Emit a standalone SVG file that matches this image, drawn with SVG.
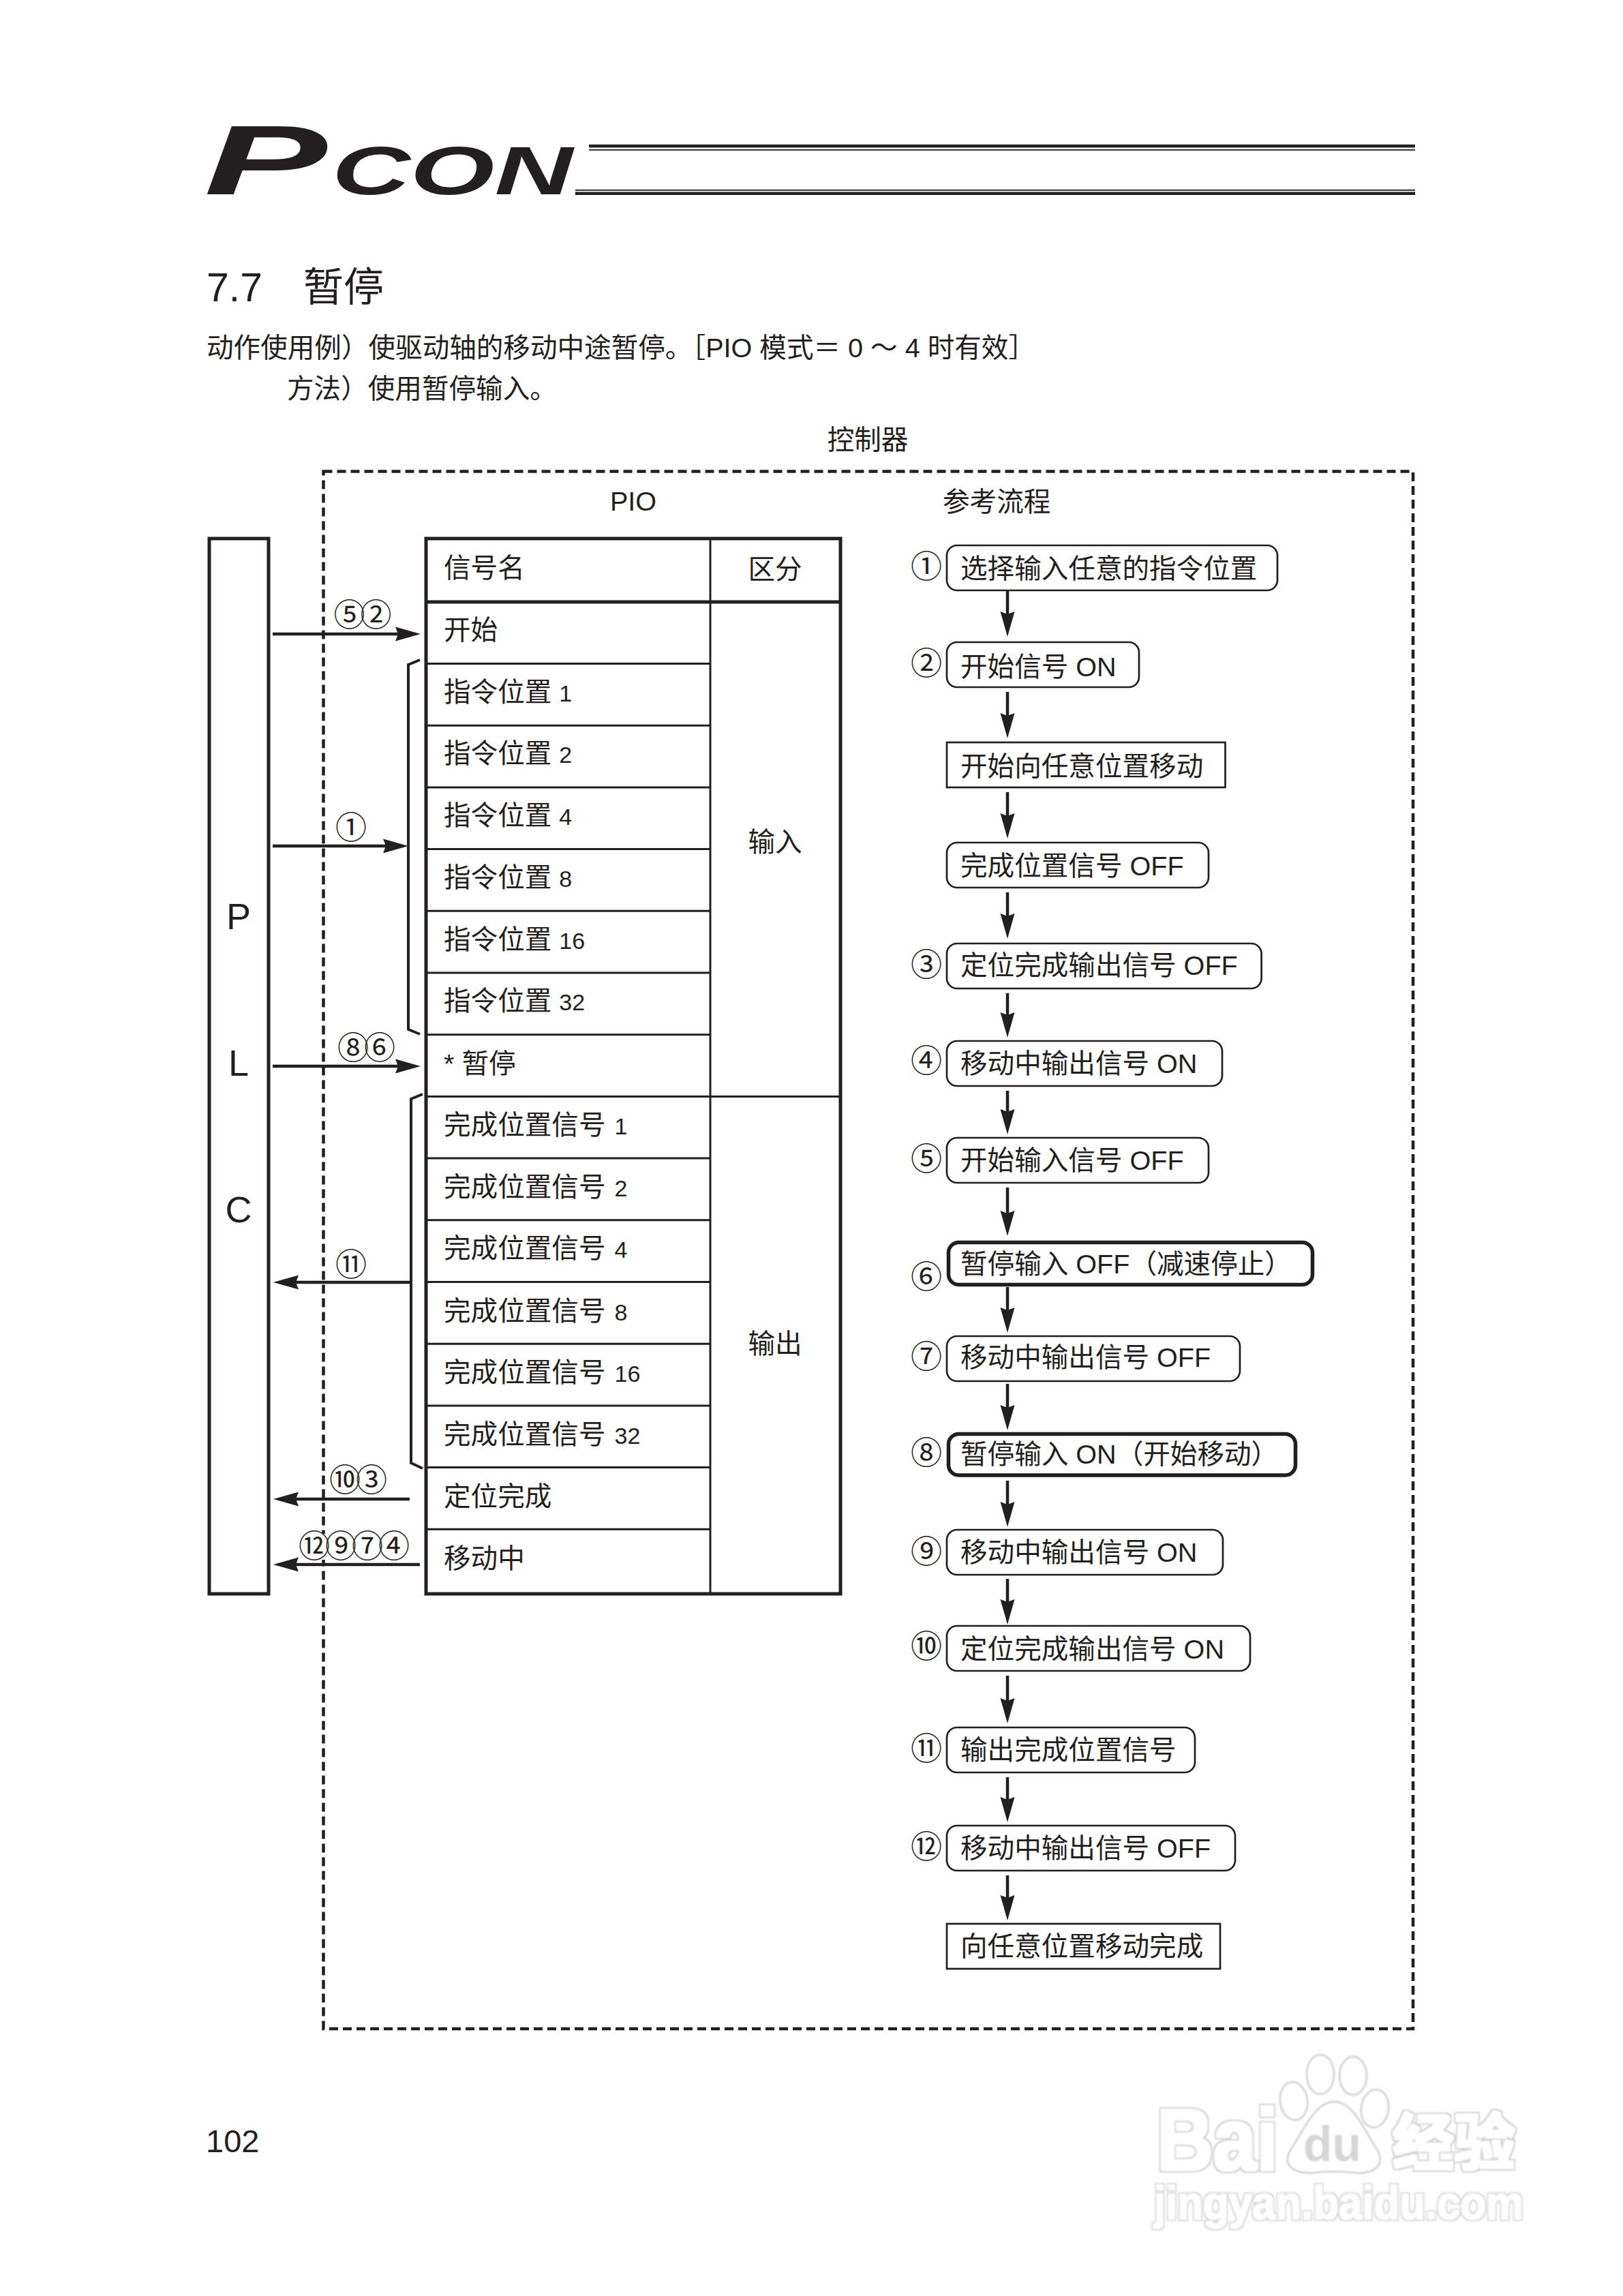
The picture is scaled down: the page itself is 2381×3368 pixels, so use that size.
<svg xmlns="http://www.w3.org/2000/svg" width="2381" height="3368" viewBox="0 0 2381 3368">
<style>
text{font-family:"Liberation Sans","Noto Sans CJK SC",sans-serif;fill:#231f20}
.t40{font-size:39.6px}
.n{font-size:34px}
.c{font-size:46px;font-family:"Noto Sans CJK SC",sans-serif}
.cc{letter-spacing:-7px}
.mid{text-anchor:middle}
.cell{fill:none;stroke:#231f20;stroke-width:3}
.heavy{fill:none;stroke:#231f20;stroke-width:5}
.box{fill:#fff;stroke:#231f20;stroke-width:2.7}
.bold{fill:#fff;stroke:#231f20;stroke-width:5.5}
.arr{fill:none;stroke:#231f20;stroke-width:4.5;marker-end:url(#head)}
.brk{fill:none;stroke:#231f20;stroke-width:4}
.wm{font-family:"Liberation Sans","Noto Sans CJK SC",sans-serif;font-weight:bold;fill:#000}
.paw{fill:#fff;stroke:#d4d4d4;stroke-width:3}
</style>
<defs>
<marker id="head" markerUnits="userSpaceOnUse" markerWidth="38" markerHeight="22" viewBox="0 0 38 22" refX="9" refY="11" orient="auto"><path d="M0 .5L37 11L0 21.5L4 11Z" fill="#231f20"/></marker>
<filter id="soft"><feGaussianBlur stdDeviation="1.2"/></filter>
<filter id="ring" x="-5%" y="-15%" width="110%" height="130%">
<feMorphology in="SourceAlpha" operator="dilate" radius="4" result="a"/>
<feMorphology in="SourceAlpha" operator="dilate" radius="2" result="b"/>
<feFlood flood-color="#d2d2d2"/><feComposite in2="a" operator="in" result="ga"/>
<feFlood flood-color="#fff"/><feComposite in2="b" operator="in" result="wb"/>
<feMerge result="m"><feMergeNode in="ga"/><feMergeNode in="wb"/></feMerge>
<feGaussianBlur in="m" stdDeviation="1.2"/>
</filter>
<filter id="ringS" x="-5%" y="-15%" width="110%" height="130%">
<feMorphology in="SourceAlpha" operator="dilate" radius="2.5" result="a"/>
<feMorphology in="SourceAlpha" operator="dilate" radius="1" result="b"/>
<feFlood flood-color="#dadada"/><feComposite in2="a" operator="in" result="ga"/>
<feFlood flood-color="#fff"/><feComposite in2="b" operator="in" result="wb"/>
<feMerge result="m"><feMergeNode in="ga"/><feMergeNode in="wb"/></feMerge>
<feGaussianBlur in="m" stdDeviation="1.2"/>
</filter>
</defs>
<rect width="2381" height="3368" fill="#fff"/>
<g id="logo">
<text transform="translate(299 285) scale(1.87 1)" font-size="145" font-weight="bold" font-style="italic">P</text>
<text transform="translate(487 285) scale(1.59 1)" font-size="100" font-weight="bold" font-style="italic">CON</text>
<rect x="864" y="212" width="1212" height="4.5" fill="#231f20"/>
<rect x="864" y="219" width="1212" height="1.8" fill="#231f20"/>
<rect x="844" y="278" width="1232" height="1.8" fill="#231f20"/>
<rect x="844" y="281.5" width="1232" height="4.5" fill="#231f20"/>
</g>
<g id="heading">
<text x="303" y="442" font-size="59">7.7</text>
<text x="445" y="442" font-size="59">暂停</text>
<text x="303" y="524" font-size="39.6">动作使用例）使驱动轴的移动中途暂停。［PIO 模式＝ 0 ～ 4 时有效］</text>
<text x="421" y="584" font-size="39.6">方法）使用暂停输入。</text>
</g>
<g id="controller">
<rect x="474.5" y="691.5" width="1598.5" height="2284.5" fill="none" stroke="#231f20" stroke-width="4.5" stroke-dasharray="13 7"/>
<text x="1273" y="659" class="t40 mid">控制器</text>
<text x="929" y="749" class="t40 mid">PIO</text>
<text x="1383" y="750" class="t40">参考流程</text>
</g>
<g id="plc">
<rect x="307" y="790" width="87" height="1548" fill="#fff" stroke="#231f20" stroke-width="5"/>
<text x="350" y="1363" font-size="54" class="mid">P</text>
<text x="350" y="1578" font-size="54" class="mid">L</text>
<text x="350" y="1793" font-size="54" class="mid">C</text>
</g>
<g id="pio-table">
<rect x="625" y="790" width="608" height="1548" class="heavy"/>
<path d="M1042 790V2338" class="cell"/>
<path d="M625 883H1233" class="heavy"/>
<path d="M625 973.5H1042M625 1064.2H1042M625 1154.9H1042M625 1245.6H1042M625 1336.3H1042M625 1427H1042M625 1517.7H1042M625 1608.4H1233M625 1699.1H1042M625 1789.8H1042M625 1880.5H1042M625 1971.2H1042M625 2061.9H1042M625 2152.6H1042M625 2243.3H1042" class="cell"/>
</g>
<g id="pio-labels" class="t40">
<text x="651" y="847">信号名</text>
<text x="1137" y="849" class="mid">区分</text>
<text x="1137" y="1249" class="mid">输入</text>
<text x="1137" y="1985" class="mid">输出</text>
<text x="651" y="938">开始</text>
<text x="651" y="1029">指令位置 <tspan class="n">1</tspan></text>
<text x="651" y="1119">指令位置 <tspan class="n">2</tspan></text>
<text x="651" y="1210">指令位置 <tspan class="n">4</tspan></text>
<text x="651" y="1301">指令位置 <tspan class="n">8</tspan></text>
<text x="651" y="1392">指令位置 <tspan class="n">16</tspan></text>
<text x="651" y="1482">指令位置 <tspan class="n">32</tspan></text>
<text x="651" y="1574">* 暂停</text>
<text x="651" y="1664">完成位置信号 <tspan class="n" dx="2">1</tspan></text>
<text x="651" y="1755">完成位置信号 <tspan class="n" dx="2">2</tspan></text>
<text x="651" y="1845">完成位置信号 <tspan class="n" dx="2">4</tspan></text>
<text x="651" y="1937">完成位置信号 <tspan class="n" dx="2">8</tspan></text>
<text x="651" y="2027">完成位置信号 <tspan class="n" dx="2">16</tspan></text>
<text x="651" y="2118">完成位置信号 <tspan class="n" dx="2">32</tspan></text>
<text x="651" y="2209">定位完成</text>
<text x="651" y="2300">移动中</text>
</g>
<g id="connectors">
<path class="arr" d="M400 930H589"/>
<path class="arr" d="M400 1241H571"/>
<path class="arr" d="M400 1564H589"/>
<path class="arr" d="M601 1881H429"/>
<path class="arr" d="M601 2199H429"/>
<path class="arr" d="M616 2295H429"/>
<path class="brk" d="M616 968L599 975V1510L616 1517"/>
<path class="brk" d="M620 1605L603 1612V2146L620 2154"/>
<path class="arr" d="M1478 866V906"/>
<path class="arr" d="M1478 1015V1055"/>
<path class="arr" d="M1478 1162V1202"/>
<path class="arr" d="M1478 1309V1349"/>
<path class="arr" d="M1478 1457V1494"/>
<path class="arr" d="M1478 1600V1636"/>
<path class="arr" d="M1478 1742V1785"/>
<path class="arr" d="M1478 1888V1927"/>
<path class="arr" d="M1478 2030V2070"/>
<path class="arr" d="M1478 2172V2212"/>
<path class="arr" d="M1478 2316V2355"/>
<path class="arr" d="M1478 2458V2500"/>
<path class="arr" d="M1478 2607V2645"/>
<path class="arr" d="M1478 2751V2789"/>
</g>
<g id="arrow-labels">
<rect x="466" y="2250" width="17" height="38" fill="#fff"/>
<text x="528.5" y="918" class="c cc mid">⑤②</text>
<text x="515" y="1230" class="c mid">①</text>
<text x="534" y="1553" class="c cc mid">⑧⑥</text>
<text x="515" y="1871" class="c mid">⑪</text>
<text x="522" y="2187" class="c cc mid">⑩③</text>
<text x="516" y="2284" class="c cc mid">⑫⑨⑦④</text>
</g>
<g id="step1"><text x="1359" y="847" class="c mid">①</text><rect x="1389" y="800" width="485" height="66" rx="15" class="box"/><text x="1409" y="847.5" class="t40">选择输入任意的指令位置</text></g>
<g id="step2"><text x="1359" y="989" class="c mid">②</text><rect x="1389" y="942" width="282" height="66" rx="15" class="box"/><text x="1409" y="991.5" class="t40">开始信号 ON</text></g>
<g id="step2b"><rect x="1389" y="1089" width="408.5" height="66" class="box"/><text x="1409" y="1137.5" class="t40">开始向任意位置移动</text></g>
<g id="step2c"><rect x="1389" y="1236" width="384" height="66" rx="15" class="box"/><text x="1409" y="1283.5" class="t40">完成位置信号 OFF</text></g>
<g id="step3"><text x="1359" y="1431" class="c mid">③</text><rect x="1389" y="1384" width="461.6" height="66" rx="15" class="box"/><text x="1409" y="1429.5" class="t40">定位完成输出信号 OFF</text></g>
<g id="step4"><text x="1359" y="1572" class="c mid">④</text><rect x="1389" y="1527" width="404" height="66" rx="15" class="box"/><text x="1409" y="1573.5" class="t40">移动中输出信号 ON</text></g>
<g id="step5"><text x="1359" y="1716" class="c mid">⑤</text><rect x="1389" y="1669" width="384" height="66" rx="15" class="box"/><text x="1409" y="1715.5" class="t40">开始输入信号 OFF</text></g>
<g id="step6"><text x="1359" y="1889" class="c mid">⑥</text><rect x="1391.5" y="1822.5" width="534" height="62" rx="15" class="bold"/><text x="1409" y="1867.5" class="t40">暂停输入 OFF（减速停止）</text></g>
<g id="step7"><text x="1359" y="2006" class="c mid">⑦</text><rect x="1389" y="1960" width="430" height="66" rx="15" class="box"/><text x="1409" y="2004.5" class="t40">移动中输出信号 OFF</text></g>
<g id="step8"><text x="1359" y="2147" class="c mid">⑧</text><rect x="1391.5" y="2103.5" width="509" height="60.5" rx="15" class="bold"/><text x="1409" y="2146.5" class="t40">暂停输入 ON（开始移动）</text></g>
<g id="step9"><text x="1359" y="2292" class="c mid">⑨</text><rect x="1389" y="2244" width="405" height="66" rx="15" class="box"/><text x="1409" y="2290.5" class="t40">移动中输出信号 ON</text></g>
<g id="step10"><text x="1359" y="2431" class="c mid">⑩</text><rect x="1389" y="2385" width="445" height="66" rx="15" class="box"/><text x="1409" y="2432.5" class="t40">定位完成输出信号 ON</text></g>
<g id="step11"><text x="1359" y="2581" class="c mid">⑪</text><rect x="1389" y="2534" width="364" height="66" rx="15" class="box"/><text x="1409" y="2580.5" class="t40">输出完成位置信号</text></g>
<g id="step12"><text x="1359" y="2725" class="c mid">⑫</text><rect x="1389" y="2678" width="423" height="66" rx="15" class="box"/><text x="1409" y="2724.5" class="t40">移动中输出信号 OFF</text></g>
<g id="step13"><rect x="1389" y="2822" width="401" height="66" class="box"/><text x="1409" y="2868.5" class="t40">向任意位置移动完成</text></g>
<g id="page"><text x="302" y="3157" font-size="47">102</text></g>
<g id="watermark">
<text x="1697" y="3183" font-size="128" textLength="178" lengthAdjust="spacingAndGlyphs" class="wm" filter="url(#ring)">Bai</text>
<g filter="url(#soft)">
<ellipse cx="1898" cy="3082" rx="20" ry="28" class="paw" transform="rotate(-8 1898 3082)"/>
<ellipse cx="1937" cy="3043" rx="20" ry="29" class="paw"/>
<ellipse cx="1985" cy="3045" rx="20" ry="28" class="paw"/>
<ellipse cx="2017" cy="3093" rx="20" ry="28" class="paw" transform="rotate(8 2017 3093)"/>
<path d="M1957 3083C1985 3083 2002 3125 2017 3148C2038 3178 2012 3190 1985 3187C1970 3185 1945 3185 1930 3187C1902 3190 1875 3178 1897 3148C1912 3125 1930 3083 1957 3083Z" class="paw"/>
</g>
<text x="1912" y="3170" font-size="72" textLength="85" lengthAdjust="spacingAndGlyphs" style="font-weight:bold;fill:#d6d6d6" filter="url(#soft)">du</text>
<text x="2043" y="3175" font-size="90" class="wm" filter="url(#ring)">经验</text>
<text x="1693" y="3255" font-size="68" textLength="542" lengthAdjust="spacingAndGlyphs" class="wm" filter="url(#ringS)">jingyan.baidu.com</text>
</g>
</svg>
